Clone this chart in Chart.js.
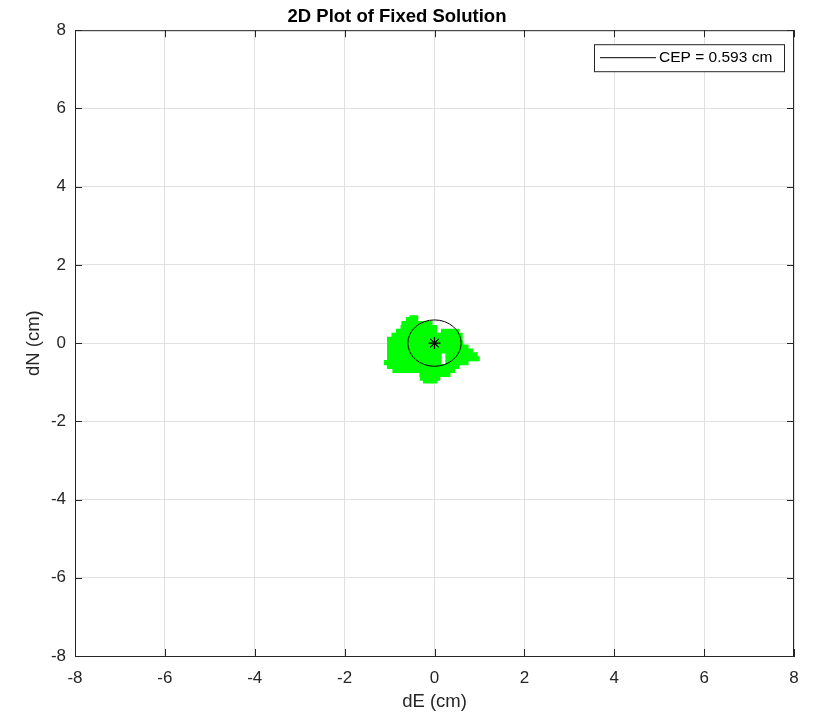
<!DOCTYPE html>
<html lang="en">
<head>
<meta charset="UTF-8">
<title>2D Plot of Fixed Solution</title>
<script src="https://cdn.jsdelivr.net/npm/chart.js@4.4.0/dist/chart.umd.min.js"></script>
<style>
  html, body { margin: 0; background: #fff; }
  #wrap { width: 813px; height: 713px; }
</style>
</head>
<body>
<div id="wrap"><canvas id="plot"></canvas></div>
<script>
  // tick positions on both axes (cm)
  const axisTicks = [-8, -6, -4, -2, 0, 2, 4, 6, 8];
  const cepRadius = 0.593;
  const centerE = [0];
  const centerN = [0];

  // fixed-solution cloud (dN of the row, dE of each point)
  const rowN = [0.65, 0.6, 0.5, 0.4, 0.3, 0.2, 0.1, 0, -0.1, -0.2, -0.3, -0.4, -0.5, -0.6, -0.7, -0.8, -0.9, -0.97];
  const rowE = [
    [-0.5, -0.42],
    [-0.58, -0.5, -0.42],
    [-0.68, -0.6, -0.5, -0.4, -0.3, -0.2, -0.1],
    [-0.7, -0.6, -0.5, -0.4, -0.3, -0.2, -0.1, 0],
    [-0.8, -0.7, -0.6, -0.5, -0.4, -0.3, -0.2, -0.1, 0, 0.2, 0.3, 0.4, 0.5],
    [-0.9, -0.8, -0.7, -0.6, -0.5, -0.4, -0.3, -0.2, -0.1, 0, 0.1, 0.2, 0.3, 0.4, 0.5, 0.57],
    [-1, -0.9, -0.8, -0.7, -0.6, -0.5, -0.4, -0.3, -0.2, -0.1, 0, 0.1, 0.2, 0.3, 0.4, 0.5, 0.57],
    [-1, -0.9, -0.8, -0.7, -0.6, -0.5, -0.4, -0.3, -0.2, -0.1, 0, 0.1, 0.2, 0.3, 0.4, 0.5, 0.58],
    [-1, -0.9, -0.8, -0.7, -0.6, -0.5, -0.4, -0.3, -0.2, -0.1, 0, 0.1, 0.2, 0.3, 0.4, 0.5, 0.6, 0.7],
    [-1, -0.9, -0.8, -0.7, -0.6, -0.5, -0.4, -0.3, -0.2, -0.1, 0, 0.1, 0.2, 0.3, 0.4, 0.5, 0.6, 0.7, 0.8],
    [-1, -0.9, -0.8, -0.7, -0.6, -0.5, -0.4, -0.3, -0.2, -0.1, 0, 0.1, 0.3, 0.4, 0.5, 0.6, 0.7, 0.8, 0.9],
    [-1, -0.9, -0.8, -0.7, -0.6, -0.5, -0.4, -0.3, -0.2, -0.1, 0, 0.1, 0.3, 0.4, 0.5, 0.6, 0.7, 0.8, 0.9, 0.95],
    [-1.07, -1, -0.9, -0.8, -0.7, -0.6, -0.5, -0.4, -0.3, -0.2, -0.1, 0, 0.1, 0.3, 0.4, 0.5, 0.6, 0.7],
    [-1, -0.9, -0.8, -0.7, -0.6, -0.5, -0.4, -0.3, -0.2, -0.1, 0, 0.1, 0.2, 0.3, 0.4, 0.5],
    [-0.88, -0.8, -0.7, -0.6, -0.5, -0.4, -0.3, -0.2, -0.1, 0, 0.1, 0.2, 0.3, 0.4],
    [-0.28, -0.2, -0.1, 0, 0.1, 0.2, 0.3],
    [-0.27, -0.2, -0.1, 0, 0.07],
    [-0.2, -0.1, 0]
  ];

  const cloud = [];
  rowN.forEach((n, i) => rowE[i].forEach(e => cloud.push({ x: e, y: n })));

  const inkColor = '#262626';
  const gridColor = '#e1e1e1';

  // CEP circle in data units, inward ticks, top/right box edges, legend box
  const matlabAxes = {
    id: 'matlabAxes',
    afterDatasetsDraw(chart) {
      const { ctx, scales: { x, y } } = chart;
      const cx = x.getPixelForValue(centerE[0]);
      const cy = y.getPixelForValue(centerN[0]);
      const rx = x.getPixelForValue(cepRadius) - x.getPixelForValue(0);
      const ry = y.getPixelForValue(0) - y.getPixelForValue(cepRadius);
      ctx.save();
      ctx.strokeStyle = '#000';
      ctx.lineWidth = 1;
      ctx.beginPath();
      ctx.ellipse(cx, cy, rx, ry, 0, 0, Math.PI * 2);
      ctx.stroke();
      ctx.restore();
    },
    afterDraw(chart) {
      const { ctx, chartArea: a, scales: { x, y } } = chart;
      ctx.save();
      ctx.strokeStyle = inkColor;
      ctx.lineWidth = 1;
      ctx.beginPath();
      axisTicks.forEach(v => {
        const px = Math.round(x.getPixelForValue(v)) + 0.5;
        const py = Math.round(y.getPixelForValue(v)) + 0.5;
        ctx.moveTo(px, a.bottom); ctx.lineTo(px, a.bottom - 7);
        ctx.moveTo(px, a.top); ctx.lineTo(px, a.top + 7);
        ctx.moveTo(a.left, py); ctx.lineTo(a.left + 7, py);
        ctx.moveTo(a.right, py); ctx.lineTo(a.right - 7, py);
      });
      ctx.moveTo(a.left, a.top + 0.5); ctx.lineTo(a.right, a.top + 0.5);
      ctx.moveTo(a.right - 0.5, a.top); ctx.lineTo(a.right - 0.5, a.bottom);
      ctx.stroke();

      // legend
      const bw = 190, bh = 27;
      const bx = a.right - 10 - bw, by = a.top + 14;
      ctx.fillStyle = '#fff';
      ctx.fillRect(bx, by, bw, bh);
      ctx.strokeRect(bx + 0.5, by + 0.5, bw, bh);
      ctx.strokeStyle = '#000';
      ctx.beginPath();
      ctx.moveTo(bx + 6, by + 13.5); ctx.lineTo(bx + 62, by + 13.5);
      ctx.stroke();
      ctx.fillStyle = '#000';
      ctx.font = '15.5px "Liberation Sans", Arial, sans-serif';
      ctx.textBaseline = 'middle';
      ctx.fillText('CEP = ' + cepRadius.toFixed(3) + ' cm', bx + 65, by + 14);
      ctx.restore();
    }
  };

  const tickFont = { family: '"Liberation Sans", Arial, sans-serif', size: 17 };
  const labelFont = { family: '"Liberation Sans", Arial, sans-serif', size: 18.5 };

  new Chart(document.getElementById('plot'), {
    type: 'scatter',
    data: {
      datasets: [
        {
          label: 'center',
          data: centerE.map((e, i) => ({ x: e, y: centerN[i] })),
          pointStyle: 'star',
          pointRadius: 6,
          borderColor: '#000',
          borderWidth: 1.2,
          order: 0
        },
        {
          label: 'fixed',
          data: cloud,
          pointStyle: 'rect',
          pointRadius: 3.6,
          backgroundColor: '#00ff00',
          borderWidth: 0,
          order: 1
        }
      ]
    },
    options: {
      responsive: true,
      maintainAspectRatio: false,
      animation: false,
      devicePixelRatio: 1,
      layout: { padding: { top: 0, right: 19, left: 0, bottom: 0 } },
      plugins: {
        legend: { display: false },
        tooltip: { enabled: false },
        title: {
          display: true,
          text: '2D Plot of Fixed Solution',
          color: '#000',
          font: { family: '"Liberation Sans", Arial, sans-serif', size: 18.5, weight: 'bold' },
          padding: { top: 6, bottom: 2 }
        }
      },
      scales: {
        x: {
          type: 'linear',
          min: -8, max: 8,
          afterBuildTicks: s => { s.ticks = axisTicks.map(v => ({ value: v })); },
          afterFit: s => { s.height = 57; },
          grid: { color: gridColor, drawTicks: false },
          border: { display: true, color: inkColor },
          ticks: { color: inkColor, font: tickFont, padding: 12, maxRotation: 0 },
          title: { display: true, text: 'dE (cm)', color: inkColor, font: labelFont, padding: { top: 9, bottom: 0 } }
        },
        y: {
          type: 'linear',
          min: -8, max: 8,
          afterBuildTicks: s => { s.ticks = axisTicks.map(v => ({ value: v })); },
          afterFit: s => { s.width = 75; },
          grid: { color: gridColor, drawTicks: false },
          border: { display: true, color: inkColor },
          ticks: { color: inkColor, font: tickFont, padding: 9 },
          title: { display: true, text: 'dN (cm)', color: inkColor, font: labelFont, padding: { top: 23, bottom: 0 } }
        }
      }
    },
    plugins: [matlabAxes]
  });
</script>
</body>
</html>
